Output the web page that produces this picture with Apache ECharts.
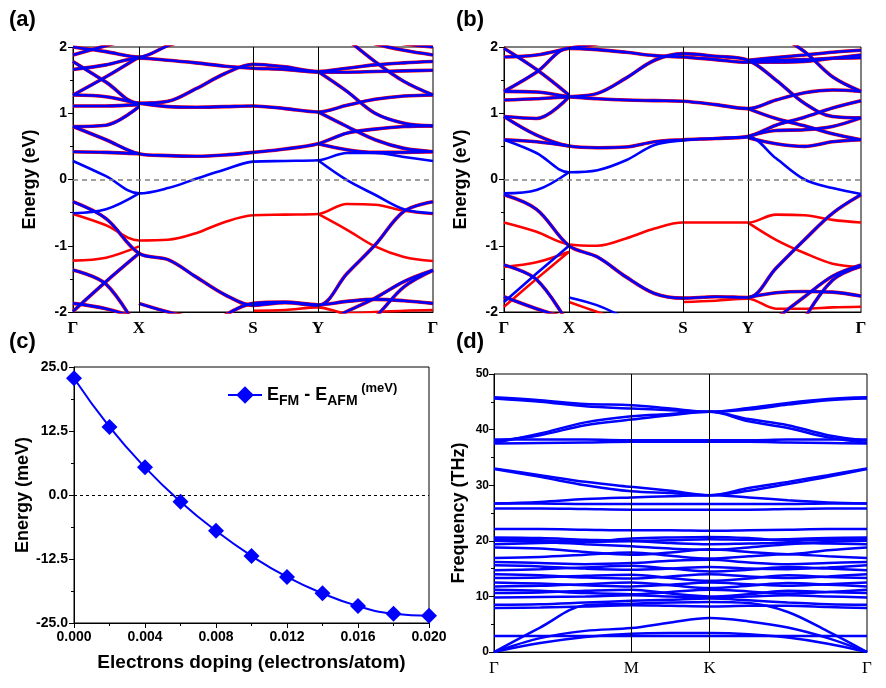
<!DOCTYPE html>
<html>
<head>
<meta charset="utf-8">
<script src="https://cdn.jsdelivr.net/npm/echarts@6/dist/echarts.min.js"></script>
<style>
  html, body { margin: 0; background: #fff; }
  #main { width: 886px; height: 688px; }
</style>
</head>
<body>
<div id="main"></div>
<script>
const _ = null;

// ---- (a) FM band structure, k-path G-X-S-Y-G ----
const kA = [0, 33, 66, 95, 123, 152, 180, 212, 245, 274, 302, 331, 360];
const symA = [0, 66, 180, 245, 360];
const symLabelsA = ['Γ', 'X', 'S', 'Y', 'Γ'];
// bands where both spins overlap (red under blue)
const bothA = [
  [2.00, 1.93, 1.85, 2.02, 2.15, _, _, _, _, _, _, _, _],
  [1.88, 2.02, 2.15, _, _, _, _, _, _, _, _, _, _],
  [1.78, 1.47, 1.15, 1.18, 1.37, 1.60, 1.74, 1.70, 1.63, 1.68, 1.73, 1.76, 1.78],
  [1.66, 1.73, 1.83, 1.80, 1.76, 1.71, 1.68, 1.66, 1.62, 1.62, 1.63, 1.64, 1.65],
  [1.275, 1.55, 1.85, _, _, _, _, _, _, _, _, _, _],
  [1.275, 1.25, 1.15, 1.10, 1.09, 1.10, 1.11, 1.07, 1.02, 1.12, 1.21, 1.26, 1.275],
  [1.11, 1.11, 1.13, _, _, _, _, _, _, _, _, _, _],
  [0.80, 0.82, 1.10, _, _, _, _, _, _, _, _, _, _],
  [0.80, 0.60, 0.39, 0.36, 0.35, 0.37, 0.41, 0.46, 0.54, 0.70, 0.76, 0.80, 0.81],
  [0.42, 0.41, 0.39, _, _, _, _, _, _, _, _, _, _],
  [_, _, _, _, _, _, _, _, 1.02, 0.80, 0.60, 0.47, 0.42],
  [_, _, _, _, _, _, _, _, 1.63, 1.33, 1.00, 0.85, 0.81],
  [_, _, _, _, _, _, _, _, 0.54, 0.45, 0.41, 0.41, 0.42],
  [_, _, _, _, _, _, _, _, _, 2.12, 1.78, 1.48, 1.275],
  [_, _, _, _, _, _, _, _, _, 2.20, 2.05, 1.95, 1.88],
  [_, _, _, _, _, _, _, _, _, _, 2.15, 2.05, 2.00],
  [-0.335, -0.59, -1.115, -1.21, -1.47, -1.74, -1.90, -1.86, -1.90, -1.42, -0.99, -0.48, -0.335],
  [-1.366, -1.58, -2.30, _, _, _, _, _, _, _, _, _, _],
  [-1.99, -1.54, -1.115, _, _, _, _, _, _, _, _, _, _],
  [-1.87, -1.95, -2.10, _, _, _, _, _, _, _, _, _, _],
  [_, _, -1.87, -2.00, -2.10, _, _, _, _, _, _, _, _],
  [_, _, _, _, _, -2.05, -1.87, -1.85, -1.89, -1.84, -1.81, -1.83, -1.87],
  [_, _, _, _, _, _, _, _, -2.20, -1.99, -1.79, -1.54, -1.37],
  [_, _, _, _, _, _, _, _, _, -2.40, -2.08, -1.62, -1.37]
];
const blueA = [
  [0.28, 0.05, -0.21, -0.13, 0.01, 0.15, 0.27, 0.28, 0.29, 0.40, 0.40, 0.34, 0.28],
  [-0.51, -0.45, -0.21, _, _, _, _, _, _, _, _, _, _],
  [_, _, _, _, _, _, _, _, 0.29, -0.01, -0.23, -0.45, -0.51]
];
const redA = [
  [-0.52, -0.69, -0.92, -0.91, -0.81, -0.64, -0.54, -0.53, -0.52, -0.37, -0.38, -0.47, -0.52],
  [-1.225, -1.18, -1.01, _, _, _, _, _, _, _, _, _, _],
  [_, _, _, _, _, _, _, _, -0.52, -0.76, -1.01, -1.17, -1.23],
  [_, _, _, _, _, _, -1.98, -1.97, -1.93, -2.02, -2.00, -1.98, -1.97]
];

// ---- (b) AFM band structure ----
const kB = [0, 32.5, 65, 93.5, 122, 150.5, 179, 211.5, 244, 272, 300.5, 328.5, 357];
const symB = [0, 65, 179, 244, 357];
const symLabelsB = ['Γ', 'X', 'S', 'Y', 'Γ'];
const bothB = [
  [1.98, 1.66, 1.275, _, _, _, _, _, _, _, _, _, _],
  [1.33, 1.62, 1.98, 1.96, 1.92, 1.87, 1.85, 1.81, 1.77, 1.77, 1.78, 1.83, 1.88],
  [1.85, 1.88, 1.98, 2.05, 2.15, _, _, _, _, _, _, _, _],
  [1.33, 1.32, 1.25, 1.22, 1.20, 1.19, 1.18, 1.13, 1.07, 1.20, 1.31, 1.35, 1.33],
  [1.20, 1.22, 1.25, 1.30, 1.53, 1.80, 1.90, 1.86, 1.80, 1.50, 1.15, 0.95, 0.93],
  [0.95, 0.92, 1.25, _, _, _, _, _, _, _, _, _, _],
  [0.95, 0.67, 0.505, 0.48, 0.49, 0.57, 0.60, 0.62, 0.65, 0.82, 0.94, 1.08, 1.19],
  [0.60, 0.57, 0.505, _, _, _, _, _, _, _, _, _, _],
  [_, _, _, _, _, _, _, _, 1.07, 0.92, 0.81, 0.69, 0.60],
  [_, _, _, _, _, _, _, _, 0.65, 0.74, 0.75, 0.80, 0.93],
  [_, _, _, _, _, _, _, _, 0.63, 0.54, 0.50, 0.57, 0.60],
  [_, _, _, _, _, _, _, _, _, 2.20, 1.93, 1.55, 1.33],
  [_, _, _, _, _, _, _, _, 1.80, 1.84, 1.88, 1.92, 1.95],
  [_, _, _, _, _, _, _, _, 1.79, 1.80, 1.81, 1.83, 1.84],
  [-0.23, -0.45, -1.00, -1.17, -1.47, -1.72, -1.79, -1.77, -1.78, -1.34, -0.91, -0.51, -0.23],
  [-1.29, -1.51, -2.20, _, _, _, _, _, _, _, _, _, _],
  [-1.77, -1.95, -2.10, _, _, _, _, _, _, _, _, _, _],
  [_, _, _, _, _, _, _, _, -1.78, -1.71, -1.69, -1.70, -1.76],
  [_, _, _, _, _, _, _, _, _, -2.10, -1.77, -1.46, -1.29],
  [_, _, _, _, _, _, _, _, _, _, -2.10, -1.52, -1.31]
];
const blueB = [
  [0.60, 0.40, 0.11, 0.14, 0.29, 0.52, 0.59, 0.62, 0.64, 0.32, 0.00, -0.13, -0.22],
  [-0.21, -0.16, 0.11, _, _, _, _, _, _, _, _, _, _],
  [-1.85, -1.42, -1.00, _, _, _, _, _, _, _, _, _, _],
  [_, _, -1.78, -1.90, -2.10, _, _, _, _, _, _, _, _]
];
const redB = [
  [-0.65, -0.79, -0.98, -1.00, -0.89, -0.74, -0.65, -0.65, -0.65, -0.53, -0.54, -0.61, -0.65],
  [-1.32, -1.25, -1.09, _, _, _, _, _, _, _, _, _, _],
  [_, _, _, _, _, _, _, _, -0.65, -0.91, -1.11, -1.27, -1.32],
  [-1.92, -1.50, -1.09, _, _, _, _, _, _, _, _, _, _],
  [_, _, -1.85, -2.00, -2.15, _, _, _, _, _, _, _, _],
  [_, _, _, _, _, _, -1.85, -1.83, -1.80, -1.95, -1.95, -1.93, -1.92]
];

// ---- (c) E_FM - E_AFM vs doping ----
const doping = [0.000, 0.002, 0.004, 0.006, 0.008, 0.010, 0.012, 0.014, 0.016, 0.018, 0.020];
const deltaE = [22.8, 13.3, 5.4, -1.3, -7.0, -11.9, -16.0, -19.2, -21.7, -23.2, -23.6];

// ---- (d) phonon dispersion, G-M-K-G ----
const kD = [0, 46, 91, 137, 176, 215, 254, 293, 333, 372];
const symD = [0, 137, 215, 372];
const symLabelsD = ['Γ', 'M', 'K', 'Γ'];
const phonon = [
  [45.8, 45.3, 44.6, 44.4, 43.8, 43.2, 43.9, 44.8, 45.5, 45.8],
  [45.6, 45.0, 44.2, 43.8, 43.5, 43.2, 43.6, 44.5, 45.3, 45.6],
  [38.0, 39.0, 40.8, 41.8, 42.6, 43.2, 41.9, 40.8, 39.0, 38.0],
  [37.6, 39.3, 41.3, 42.4, 42.8, 43.2, 41.5, 40.3, 38.6, 37.6],
  [38.2, 38.2, 38.2, 38.1, 38.1, 38.1, 38.1, 38.2, 38.2, 38.2],
  [37.5, 37.6, 37.7, 37.8, 37.8, 37.8, 37.8, 37.7, 37.6, 37.5],
  [33.0, 31.8, 30.6, 29.7, 29.0, 28.2, 29.5, 30.6, 31.8, 33.0],
  [32.9, 31.5, 30.0, 28.9, 28.6, 28.2, 29.0, 30.2, 31.5, 32.9],
  [26.7, 27.0, 27.5, 27.8, 28.0, 28.2, 27.8, 27.3, 26.9, 26.7],
  [26.7, 26.7, 26.6, 26.6, 26.6, 26.6, 26.6, 26.6, 26.7, 26.7],
  [25.8, 25.8, 25.7, 25.6, 25.6, 25.6, 25.6, 25.7, 25.8, 25.8],
  [22.1, 22.1, 22.0, 21.9, 21.9, 21.8, 21.9, 22.0, 22.1, 22.1],
  [20.6, 20.5, 20.2, 20.0, 20.1, 20.3, 20.2, 20.3, 20.5, 20.6],
  [20.3, 20.1, 19.9, 20.4, 20.6, 20.7, 20.5, 20.0, 20.2, 20.3],
  [20.0, 19.8, 19.4, 19.0, 18.6, 18.4, 18.8, 19.4, 19.8, 20.0],
  [19.4, 19.6, 19.8, 19.9, 19.6, 19.4, 19.5, 19.6, 19.5, 19.4],
  [18.8, 18.6, 18.0, 17.5, 17.9, 18.5, 18.0, 17.6, 18.3, 18.8],
  [16.9, 17.1, 17.5, 17.9, 17.3, 16.8, 17.2, 17.6, 17.2, 16.9],
  [16.2, 16.0, 15.8, 16.0, 16.4, 16.6, 16.1, 15.8, 16.0, 16.2],
  [15.6, 15.4, 15.0, 14.8, 15.0, 15.3, 15.0, 14.9, 15.2, 15.6],
  [14.7, 14.9, 15.2, 15.5, 15.0, 14.5, 14.8, 15.3, 15.0, 14.7],
  [14.0, 13.8, 13.4, 13.2, 13.6, 14.0, 13.6, 13.3, 13.6, 14.0],
  [13.3, 13.4, 13.7, 13.9, 13.3, 12.8, 13.2, 13.8, 13.5, 13.3],
  [12.5, 12.3, 12.0, 11.8, 12.1, 12.5, 12.2, 11.9, 12.2, 12.5],
  [11.8, 11.9, 12.2, 12.5, 12.0, 11.5, 11.9, 12.4, 12.1, 11.8],
  [11.2, 11.0, 10.6, 10.4, 10.8, 11.2, 10.9, 10.5, 10.8, 11.2],
  [10.6, 10.7, 11.0, 11.2, 10.5, 10.0, 10.4, 11.0, 10.8, 10.6],
  [9.8, 9.9, 10.0, 10.2, 10.0, 9.8, 10.0, 10.2, 10.0, 9.8],
  [8.5, 8.6, 8.9, 9.2, 9.4, 9.6, 9.3, 8.9, 8.6, 8.5],
  [7.9, 8.0, 8.2, 8.4, 8.3, 8.2, 8.3, 8.3, 8.1, 7.9],
  [0.0, 4.4, 8.4, 8.7, 8.9, 9.0, 8.8, 7.2, 3.7, 0.0],
  [0.0, 2.5, 3.8, 4.3, 5.3, 6.1, 5.5, 4.4, 2.5, 0.0],
  [0.0, 1.6, 2.7, 3.3, 3.4, 3.4, 3.2, 2.6, 1.5, 0.0],
  [2.9, 2.9, 2.9, 2.9, 2.9, 2.9, 2.9, 2.9, 2.9, 2.9]
];

const BLUE = '#0000ff';
const RED = '#ff0000';
const SANS = 'Liberation Sans';
const SERIF = 'Liberation Serif';

function band(k, vals, color, width, gi) {
  const d = [];
  vals.forEach((v, i) => { if (v !== null) d.push([k[i], v]); });
  return {
    type: 'line', xAxisIndex: gi, yAxisIndex: gi, data: d,
    smooth: 0.35, symbol: 'none', silent: true,
    lineStyle: { color: color, width: width }
  };
}

function symLines(xs, zero) {
  const data = xs.map(x => ({ xAxis: x }));
  if (zero) data.push({ yAxis: 0, lineStyle: { color: '#808080', type: [5, 4], width: 1.5 } });
  return {
    silent: true, symbol: 'none', label: { show: false },
    lineStyle: { color: '#000', width: 1, type: 'solid' },
    data: data
  };
}

function kAxis(gi, max, ticks, labels, bold) {
  return {
    gridIndex: gi, type: 'value', min: 0, max: max,
    axisLine: { onZero: false, lineStyle: { color: '#000', width: 1 } },
    axisTick: { show: false }, splitLine: { show: false },
    axisLabel: {
      customValues: ticks,
      formatter: v => labels[ticks.indexOf(v)],
      fontFamily: SERIF, fontWeight: bold ? 'bold' : 'normal', fontSize: 17, color: '#000', margin: 8
    }
  };
}

function eAxis(gi, name, gap) {
  return {
    gridIndex: gi, type: 'value', min: -2, max: 2, interval: 1,
    name: name, nameLocation: 'middle', nameGap: gap,
    nameTextStyle: { fontFamily: SANS, fontWeight: 'bold', fontSize: 18, color: '#000' },
    axisLine: { show: true, onZero: false, lineStyle: { color: '#000' } },
    axisTick: { show: true, length: 5 }, minorTick: { show: true, splitNumber: 2, length: 3, lineStyle: { color: '#000' } },
    splitLine: { show: false },
    axisLabel: { fontFamily: SANS, fontWeight: 'bold', fontSize: 14, color: '#000', margin: 6 }
  };
}

const series = [];
// (a)
const firstA = band(kA, redA[0], RED, 2.6, 0);
firstA.markLine = symLines(symA.slice(1, 4), true);
series.push(firstA);
redA.slice(1).forEach(b => series.push(band(kA, b, RED, 2.6, 0)));
bothA.forEach(b => series.push(band(kA, b, RED, 3.6, 0)));
bothA.forEach(b => series.push(band(kA, b, BLUE, 2.6, 0)));
blueA.forEach(b => series.push(band(kA, b, BLUE, 2.6, 0)));
// (b)
const firstB = band(kB, redB[0], RED, 2.6, 1);
firstB.markLine = symLines(symB.slice(1, 4), true);
series.push(firstB);
redB.slice(1).forEach(b => series.push(band(kB, b, RED, 2.6, 1)));
bothB.forEach(b => series.push(band(kB, b, RED, 3.6, 1)));
bothB.forEach(b => series.push(band(kB, b, BLUE, 2.6, 1)));
blueB.forEach(b => series.push(band(kB, b, BLUE, 2.6, 1)));
// (c)
series.push({
  name: 'dE', type: 'line', xAxisIndex: 2, yAxisIndex: 2,
  data: doping.map((x, i) => [x, deltaE[i]]),
  smooth: true, symbol: 'diamond', symbolSize: 16,
  itemStyle: { color: BLUE }, lineStyle: { color: BLUE, width: 2 },
  markLine: {
    silent: true, symbol: 'none', label: { show: false },
    lineStyle: { color: '#000', type: [3, 3], width: 1 },
    data: [{ yAxis: 0 }]
  }
});
// (d)
const firstD = band(kD, phonon[0], BLUE, 2.5, 3);
firstD.markLine = symLines(symD.slice(1, 3), false);
series.push(firstD);
phonon.slice(1).forEach(b => series.push(band(kD, b, BLUE, 2.5, 3)));

const gridStyle = { show: true, borderColor: '#000', borderWidth: 1, backgroundColor: 'transparent' };

const option = {
  animation: false,
  backgroundColor: '#fff',
  title: [
    { text: '(a)', left: 4, top: 4 },
    { text: '(b)', left: 451, top: 4 },
    { text: '(c)', left: 4, top: 326 },
    { text: '(d)', left: 451, top: 326 }
  ].map(t => Object.assign(t, { textStyle: { fontFamily: SANS, fontWeight: 'bold', fontSize: 22, color: '#000' } })),
  grid: [
    Object.assign({ left: 73, top: 47, width: 360, height: 265 }, gridStyle),
    Object.assign({ left: 504, top: 47, width: 357, height: 265 }, gridStyle),
    Object.assign({ left: 74, top: 367, width: 355, height: 256 }, gridStyle),
    Object.assign({ left: 494, top: 374, width: 373, height: 278 }, gridStyle)
  ],
  legend: {
    data: ['dE'], left: 222, top: 377, itemWidth: 34, itemHeight: 22, itemGap: 6,
    formatter: () => '{m|E}{s|FM}{m| - E}{s|AFM}{u| (meV)}',
    textStyle: {
      rich: {
        m: { fontFamily: SANS, fontWeight: 'bold', fontSize: 18, color: '#000', lineHeight: 26, verticalAlign: 'middle' },
        s: { fontFamily: SANS, fontWeight: 'bold', fontSize: 14, color: '#000', lineHeight: 14, verticalAlign: 'bottom' },
        u: { fontFamily: SANS, fontWeight: 'bold', fontSize: 13, color: '#000', lineHeight: 13, verticalAlign: 'top' }
      }
    }
  },
  xAxis: [
    kAxis(0, 360, symA, symLabelsA, true),
    kAxis(1, 357, symB, symLabelsB, true),
    {
      gridIndex: 2, type: 'value', min: 0, max: 0.02, interval: 0.004,
      name: 'Electrons doping (electrons/atom)', nameLocation: 'middle', nameGap: 30,
      nameTextStyle: { fontFamily: SANS, fontWeight: 'bold', fontSize: 19, color: '#000' },
      axisLine: { onZero: false, lineStyle: { color: '#000' } },
      axisTick: { length: 5 }, minorTick: { show: true, splitNumber: 2, length: 3, lineStyle: { color: '#000' } },
      splitLine: { show: false },
      axisLabel: { formatter: v => v.toFixed(3), fontFamily: SANS, fontWeight: 'bold', fontSize: 14, color: '#000', margin: 7 }
    },
    kAxis(3, 372, symD, symLabelsD, false)
  ],
  yAxis: [
    eAxis(0, 'Energy (eV)', 34),
    eAxis(1, 'Energy (eV)', 34),
    {
      gridIndex: 2, type: 'value', min: -25, max: 25, interval: 12.5,
      name: 'Energy (meV)', nameLocation: 'middle', nameGap: 40,
      nameTextStyle: { fontFamily: SANS, fontWeight: 'bold', fontSize: 18, color: '#000' },
      axisLine: { show: true, onZero: false, lineStyle: { color: '#000' } },
      axisTick: { show: true, length: 5 }, minorTick: { show: true, splitNumber: 2, length: 3, lineStyle: { color: '#000' } },
      splitLine: { show: false },
      axisLabel: { formatter: v => v.toFixed(1), fontFamily: SANS, fontWeight: 'bold', fontSize: 14, color: '#000', margin: 6 }
    },
    {
      gridIndex: 3, type: 'value', min: 0, max: 50, interval: 10,
      name: 'Frequency (THz)', nameLocation: 'middle', nameGap: 26,
      nameTextStyle: { fontFamily: SANS, fontWeight: 'bold', fontSize: 18, color: '#000' },
      axisLine: { show: true, onZero: false, lineStyle: { color: '#000' } },
      axisTick: { show: true, length: 5 }, minorTick: { show: true, splitNumber: 2, length: 3, lineStyle: { color: '#000' } },
      splitLine: { show: false },
      axisLabel: { fontFamily: SANS, fontWeight: 'bold', fontSize: 12, color: '#000', margin: 5 }
    }
  ],
  series: series
};

const chart = echarts.init(document.getElementById('main'), null, { renderer: 'canvas' });
chart.setOption(option);
</script>
</body>
</html>
